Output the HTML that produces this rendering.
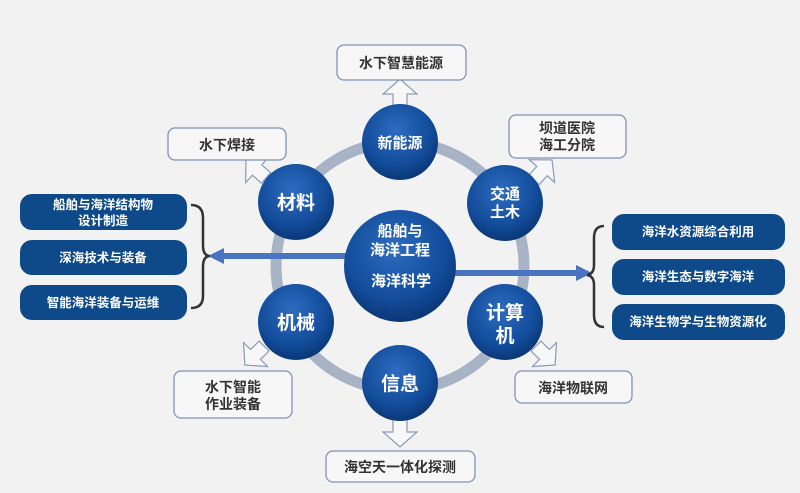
<!DOCTYPE html>
<html><head><meta charset="utf-8"><style>
html,body{margin:0;padding:0;background:#f2f2f2;}
svg{display:block;}
text{font-family:"Liberation Sans","Noto Sans CJK SC",sans-serif;font-weight:bold;}
</style></head><body>
<svg width="800" height="493" viewBox="0 0 800 493" xmlns="http://www.w3.org/2000/svg">
<defs>
<radialGradient id="g" cx="45%" cy="35%" r="65%">
<stop offset="0" stop-color="#2f6cc0"/><stop offset="0.7" stop-color="#124c9a"/><stop offset="1" stop-color="#0b3776"/>
</radialGradient>
<g id="ar"><polygon points="-7,0 7,0 7,-12 17,-12 0,-27 -17,-12 -7,-12" fill="#f7f7f7" stroke="#8a9bb5" stroke-width="1.2"/></g>
</defs>
<rect width="800" height="493" fill="#f2f2f2"/>
<circle cx="400" cy="266" r="124" fill="none" stroke="#a9b3c6" stroke-width="11"/>
<!-- arrows -->
<line x1="348" y1="256" x2="222" y2="256" stroke="#4a74c0" stroke-width="6"/>
<polygon points="208,256 224,248 224,264" fill="#4a74c0"/>
<line x1="452" y1="273" x2="578" y2="273" stroke="#4a74c0" stroke-width="6"/>
<polygon points="592,273 576,265 576,281" fill="#4a74c0"/>
<!-- hollow arrows -->
<use href="#ar" transform="translate(400,106)"/>
<use href="#ar" transform="translate(266,178) rotate(-48)"/>
<use href="#ar" transform="translate(534,180) rotate(42)"/>
<use href="#ar" transform="translate(536,346) rotate(135)"/>
<use href="#ar" transform="translate(264,346) rotate(-135)"/>
<use href="#ar" transform="translate(400,420) rotate(180)"/>
<!-- nodes -->
<g fill="url(#g)">
<circle cx="400" cy="142" r="38"/><circle cx="296" cy="202" r="38"/><circle cx="505" cy="203" r="38"/>
<circle cx="505" cy="322" r="38"/><circle cx="296" cy="322" r="38"/><circle cx="400" cy="383" r="38"/>
<circle cx="400" cy="266" r="56"/>
</g>
<g fill="#fff" text-anchor="middle">
<text x="400" y="148" font-size="15">新能源</text>
<text x="296" y="209" font-size="19">材料</text>
<text x="505" y="199" font-size="15">交通</text><text x="505" y="217" font-size="15">土木</text>
<text x="505" y="319" font-size="19">计算</text><text x="505" y="342" font-size="19">机</text>
<text x="296" y="329" font-size="19">机械</text>
<text x="400" y="390" font-size="19">信息</text>
<text x="400" y="236" font-size="15">船舶与</text>
<text x="400" y="255" font-size="15">海洋工程</text>
<text x="401" y="286" font-size="15">海洋科学</text>
</g>
<!-- outline boxes -->
<g fill="#f7f7f7" stroke="#7f93b8" stroke-width="1.3">
<rect x="337" y="45" width="129" height="35" rx="7"/>
<rect x="168" y="128" width="118" height="32" rx="7"/>
<rect x="509" y="115" width="117" height="43" rx="7"/>
<rect x="174" y="371" width="118" height="47" rx="7"/>
<rect x="515" y="371" width="117" height="32" rx="7"/>
<rect x="326" y="451" width="149" height="31" rx="7"/>
</g>
<g fill="#333" text-anchor="middle" font-size="14">
<text x="401" y="68">水下智慧能源</text>
<text x="227" y="150">水下焊接</text>
<text x="567" y="133">坝道医院</text><text x="567" y="150">海工分院</text>
<text x="233" y="392">水下智能</text><text x="233" y="409">作业装备</text>
<text x="573" y="393">海洋物联网</text>
<text x="400" y="472">海空天一体化探测</text>
</g>
<!-- left boxes -->
<g fill="#0e4a8a">
<rect x="20" y="194" width="167" height="36" rx="12"/>
<rect x="20" y="240" width="167" height="35" rx="12"/>
<rect x="20" y="285" width="167" height="35" rx="12"/>
<rect x="612" y="214" width="173" height="36" rx="12"/>
<rect x="612" y="259" width="173" height="36" rx="12"/>
<rect x="612" y="304" width="173" height="36" rx="12"/>
</g>
<g fill="#fff" text-anchor="middle" font-size="12.5">
<text x="103" y="209">船舶与海洋结构物</text><text x="103" y="225">设计制造</text>
<text x="103" y="262">深海技术与装备</text>
<text x="103" y="307">智能海洋装备与运维</text>
<text x="698" y="236">海洋水资源综合利用</text>
<text x="698" y="281">海洋生态与数字海洋</text>
<text x="698" y="326">海洋生物学与生物资源化</text>
</g>
<!-- braces -->
<path d="M191,205 Q203,205 203,218 L203,245 Q203,256 210,256 Q203,256 203,267 L203,296 Q203,308 191,308" fill="none" stroke="#333" stroke-width="2.5"/>
<path d="M604,226 Q594,226 594,238 L594,265 Q594,274 587,275 Q594,276 594,285 L594,315 Q594,327 604,327" fill="none" stroke="#333" stroke-width="2.5"/>
</svg>
</body></html>
